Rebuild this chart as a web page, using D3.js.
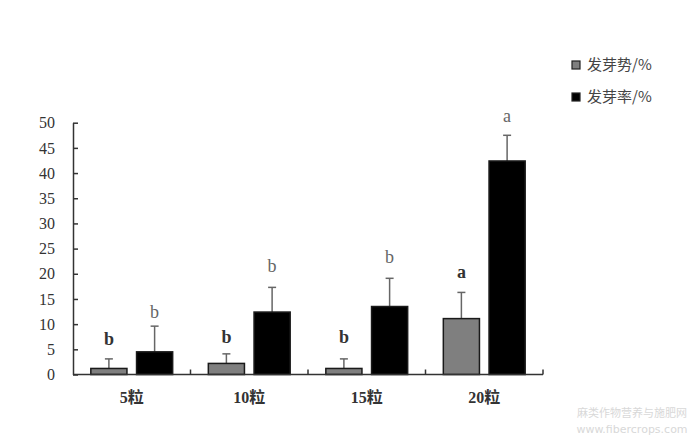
<!DOCTYPE html>
<html><head><meta charset="utf-8">
<script src="https://cdn.jsdelivr.net/npm/d3@7/dist/d3.min.js"></script>
<style>body{margin:0;background:#fff}</style>
</head><body><svg id="c" width="699" height="441"></svg>
<script>
const categories = ["5粒", "10粒", "15粒", "20粒"];
const seriesNames = ["发芽势/%", "发芽率/%"];
const vigor = [1.2, 2.2, 1.2, 11.1];
const vigorErr = [1.9, 1.9, 1.9, 5.2];
const rate = [4.5, 12.4, 13.5, 42.4];
const rateErr = [5.1, 4.9, 5.6, 5.1];
const vigorLetters = ["b", "b", "b", "a"];
const rateLetters = ["b", "b", "b", "a"];
const vigorLetterY = [5.85, 6.35, 6.35, 19.1];
const rateLetterY = [11.2, 20.4, 22.1, 50.2];
const yTicks = [0, 5, 10, 15, 20, 25, 30, 35, 40, 45, 50];
const watermark = ["麻类作物营养与施肥网", "www.fibercrops.com"];

const svg = d3.select("#c");
const L = 73, R = 543, T = 122.7, B = 374.5;
const y = d3.scaleLinear().domain([0, 50]).range([B, T]);
const x0 = d3.scaleBand().domain(categories).range([L, R]).padding(0);
const x1 = d3.scaleBand().domain([0, 1]).range([0, x0.bandwidth()]).paddingInner(0.21).paddingOuter(0.39);

const serif = "'Liberation Serif','Noto Sans CJK SC',serif";
const series = [
  {vals: vigor, err: vigorErr, fill: "#7f7f7f", letters: vigorLetters, ly: vigorLetterY, bold: true},
  {vals: rate, err: rateErr, fill: "#000", letters: rateLetters, ly: rateLetterY, bold: false}
];

series.forEach((s, si) => {
  const g = svg.append("g");
  categories.forEach((c, i) => {
    const bx = x0(c) + x1(si);
    const cx = bx + x1.bandwidth() / 2;
    g.append("line").attr("x1", cx).attr("x2", cx)
      .attr("y1", y(s.vals[i])).attr("y2", y(s.vals[i] + s.err[i]))
      .attr("stroke", "#666").attr("stroke-width", 1.5);
    g.append("line").attr("x1", cx - 4).attr("x2", cx + 4)
      .attr("y1", y(s.vals[i] + s.err[i])).attr("y2", y(s.vals[i] + s.err[i]))
      .attr("stroke", "#666").attr("stroke-width", 1.5);
    g.append("rect").attr("x", bx).attr("width", x1.bandwidth())
      .attr("y", y(s.vals[i])).attr("height", y(0) - y(s.vals[i]))
      .attr("fill", s.fill).attr("stroke", "#1a1a1a").attr("stroke-width", 1.5);
    g.append("text").attr("x", cx).attr("y", y(s.ly[i]))
      .attr("text-anchor", "middle").attr("font-family", serif)
      .attr("font-size", 18).attr("font-weight", s.bold ? "bold" : "normal")
      .attr("fill", s.bold ? "#333" : "#666").text(s.letters[i]);
  });
});

// y axis
const yAxis = d3.axisLeft(y).tickValues(yTicks).tickSizeInner(-5).tickSizeOuter(0).tickPadding(18);
const ya = svg.append("g").attr("transform", `translate(${L},0)`).call(yAxis);
ya.select(".domain").attr("stroke", "#333").attr("stroke-width", 1.5);
ya.selectAll(".tick line").attr("stroke", "#333").attr("stroke-width", 1.5);
ya.selectAll(".tick text").attr("font-family", serif).attr("font-size", 16).attr("fill", "#333");

// x axis
svg.append("line").attr("x1", L).attr("x2", R).attr("y1", B).attr("y2", B)
  .attr("stroke", "#333").attr("stroke-width", 1.5);
categories.forEach((c, i) => {
  const tx = x0(c) + x0.bandwidth();
  svg.append("line").attr("x1", tx).attr("x2", tx).attr("y1", B).attr("y2", B - 5)
    .attr("stroke", "#333").attr("stroke-width", 1.5);
});
const xAxis = d3.axisBottom(x0).tickSize(0).tickPadding(17);
const xa = svg.append("g").attr("transform", `translate(0,${B})`).call(xAxis);
xa.select(".domain").remove();
xa.selectAll(".tick text").attr("font-family", serif).attr("font-size", 16)
  .attr("font-weight", "bold").attr("fill", "#333");

// legend
const lg = svg.append("g");
seriesNames.forEach((n, i) => {
  const ly = 65 + i * 32;
  lg.append("rect").attr("x", 572).attr("y", ly - 4).attr("width", 8).attr("height", 8)
    .attr("fill", series[i].fill).attr("stroke", "#222").attr("stroke-width", 1.2);
  lg.append("text").attr("x", 587).attr("y", ly).attr("dy", "0.35em")
    .attr("font-family", "'Noto Sans CJK SC',sans-serif").attr("font-size", 15)
    .attr("fill", "#444").text(n);
});

// watermark
watermark.forEach((w, i) => {
  svg.append("text").attr("x", 632).attr("y", 413 + i * 16).attr("dy", "0.35em")
    .attr("text-anchor", "middle").attr("font-family", i === 0 ? "'Noto Sans CJK SC',sans-serif" : "'DejaVu Sans',sans-serif")
    .attr("font-size", 11).attr("fill", "#d8d8d8").text(w);
});
</script></body></html>
